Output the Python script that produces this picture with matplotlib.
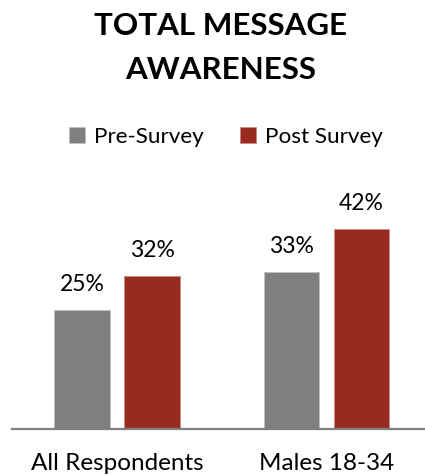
import matplotlib.pyplot as plt
import numpy as np

categories = ["All Respondents", "Males 18-34"]
pre_survey = [25, 33]
post_survey = [32, 42]
series_names = ["Pre-Survey", "Post Survey"]

gray = "#7f7f7f"
red = "#982b20"

plt.rcParams['font.family'] = ['Lato', 'DejaVu Sans']

fig = plt.figure(figsize=(4.25, 4.75), dpi=100)
# axes placed in pixel terms: left 12, right 425, baseline 429 from top
ax = fig.add_axes([12 / 425, 46 / 475, 413 / 425, 238.5 / 475])

x = np.arange(len(categories))
w = 0.267
off = 0.167
b1 = ax.bar(x - off, pre_survey, w, color=gray, edgecolor="#bfbfbf", linewidth=0.6, label=series_names[0])
b2 = ax.bar(x + off, post_survey, w, color=red, edgecolor="#c98a84", linewidth=0.6, label=series_names[1])

for bars, vals in [(b1, pre_survey), (b2, post_survey)]:
    for b, v in zip(bars, vals):
        ax.text(b.get_x() + b.get_width() / 2, v + 4.0, f"{v}%", ha="center", va="baseline",
                fontsize=16.5, color="black")

ax.set_xlim(-0.501, 1.47)
ax.set_ylim(0, 50)
ax.set_yticks([])
ax.set_xticks([])
for s in ["top", "right", "left"]:
    ax.spines[s].set_visible(False)
ax.spines["bottom"].set_color("#808080")
ax.spines["bottom"].set_linewidth(1.6)

# category names sit right at the bottom edge, as in the original
for xi, c in zip(x, categories):
    ax.text(xi, -9.35, c, ha="center", va="bottom", fontsize=17.5, color="black")

fig.text(221 / 425, 1 - 26 / 475, "TOTAL MESSAGE", ha="center", va="center",
         fontsize=22.6, fontweight="bold")
fig.text(221 / 425, 1 - 70 / 475, "AWARENESS", ha="center", va="center",
         fontsize=22.6, fontweight="bold")

fig.legend(handles=[b1, b2], labels=series_names, loc="center", bbox_to_anchor=(226 / 425, 1 - 137 / 475),
           ncol=2, frameon=False, fontsize=16.2, handlelength=0.7, handleheight=0.7,
           handletextpad=0.4, columnspacing=1.6)

fig.savefig("out.png", dpi=100)
